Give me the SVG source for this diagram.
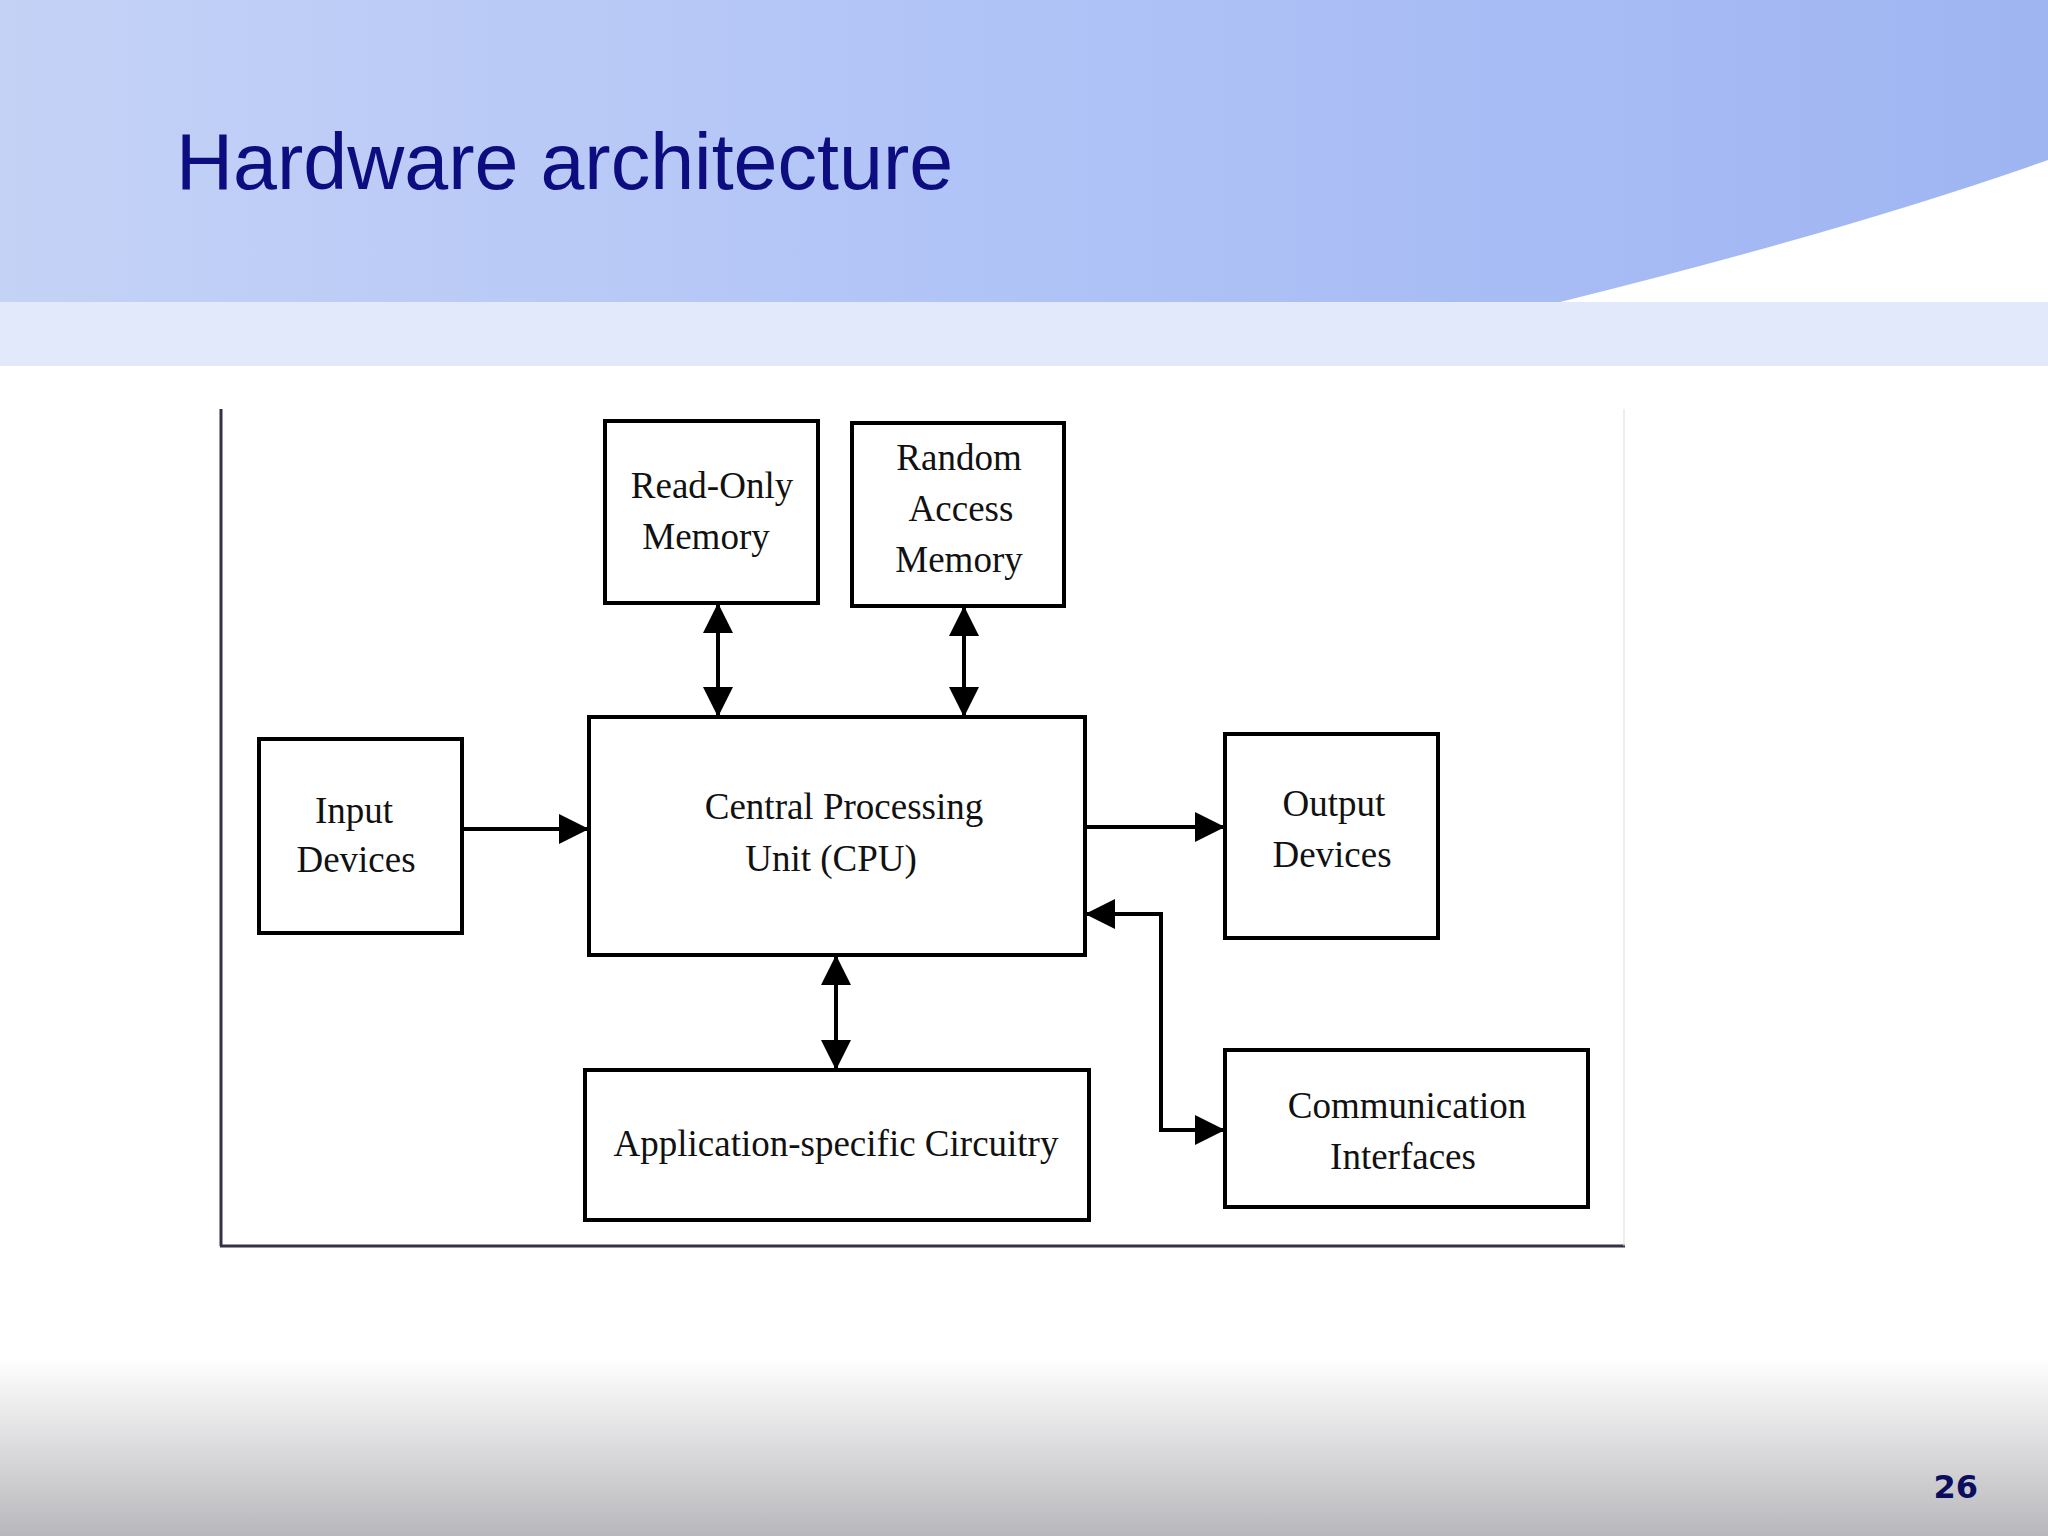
<svg xmlns="http://www.w3.org/2000/svg" width="2048" height="1536" viewBox="0 0 2048 1536">
<defs>
<linearGradient id="top" x1="0" y1="0" x2="1" y2="0">
<stop offset="0" stop-color="#c4d2f6"/><stop offset="0.5" stop-color="#b0c3f7"/><stop offset="1" stop-color="#9fb5f2"/>
</linearGradient>
<linearGradient id="bot" x1="0" y1="0" x2="0" y2="1">
<stop offset="0" stop-color="#ffffff"/><stop offset="1" stop-color="#b8b8bc"/>
</linearGradient>
<marker id="ah" viewBox="0 0 10 10" refX="10" refY="5" markerWidth="32" markerHeight="30" markerUnits="userSpaceOnUse" orient="auto-start-reverse">
<path d="M0,0 L10,5 L0,10 Z" fill="#000"/>
</marker>
<style>
.box{fill:#fff;stroke:#000;stroke-width:4}
.t{font-family:"Liberation Serif",serif;font-size:37px;fill:#111;text-anchor:middle;dominant-baseline:central}
.c{stroke:#000;stroke-width:4;fill:none}
</style>
</defs>
<rect width="2048" height="1536" fill="#fff"/>
<rect x="0" y="0" width="2048" height="366" fill="#e2e9fb"/>
<rect x="0" y="0" width="2048" height="302" fill="url(#top)"/>
<path d="M1560,302 Q1850,230 2048,160 L2048,302 Z" fill="#ffffff"/>
<rect x="0" y="1358" width="2048" height="178" fill="url(#bot)"/>
<text x="176" y="189" font-family="Liberation Sans,Arial,sans-serif" font-size="79" fill="#0d0d80">Hardware architecture</text>
<text x="1978" y="1498" font-family="DejaVu Sans,sans-serif" font-size="32" font-weight="bold" fill="#0d0d60" text-anchor="end">26</text>
<g id="frame">
<line x1="221" y1="409" x2="221" y2="1246" stroke="#334" stroke-width="3"/>
<line x1="220" y1="1246" x2="1625" y2="1246" stroke="#334" stroke-width="3"/>
<line x1="1624" y1="409" x2="1624" y2="1246" stroke="#ddd" stroke-width="1"/>
</g>
<g id="rom"><rect class="box" x="605" y="421" width="213" height="182"/><text class="t" x="712" y="485">Read-Only</text><text class="t" x="706" y="536">Memory</text></g>
<g id="ram"><rect class="box" x="852" y="423" width="212" height="183"/><text class="t" x="959" y="457">Random</text><text class="t" x="961" y="508">Access</text><text class="t" x="959" y="559">Memory</text></g>
<g id="cpu"><rect class="box" x="589" y="717" width="496" height="238"/><text class="t" x="844" y="806">Central Processing</text><text class="t" x="831" y="858">Unit (CPU)</text></g>
<g id="input"><rect class="box" x="259" y="739" width="203" height="194"/><text class="t" x="354" y="810">Input</text><text class="t" x="356" y="859">Devices</text></g>
<g id="output"><rect class="box" x="1225" y="734" width="213" height="204"/><text class="t" x="1334" y="803">Output</text><text class="t" x="1332" y="854">Devices</text></g>
<g id="asc"><rect class="box" x="585" y="1070" width="504" height="150"/><text class="t" x="836" y="1143">Application-specific Circuitry</text></g>
<g id="comm"><rect class="box" x="1225" y="1050" width="363" height="157"/><text class="t" x="1407" y="1105">Communication</text><text class="t" x="1403" y="1156">Interfaces</text></g>
<g id="connectors">
<line class="c" x1="718" y1="603" x2="718" y2="717" marker-start="url(#ah)" marker-end="url(#ah)"/>
<line class="c" x1="964" y1="606" x2="964" y2="717" marker-start="url(#ah)" marker-end="url(#ah)"/>
<line class="c" x1="836" y1="955" x2="836" y2="1070" marker-start="url(#ah)" marker-end="url(#ah)"/>
<line class="c" x1="462" y1="829" x2="589" y2="829" marker-end="url(#ah)"/>
<line class="c" x1="1085" y1="827" x2="1225" y2="827" marker-end="url(#ah)"/>
<polyline class="c" points="1085,914 1161,914 1161,1130 1225,1130" marker-start="url(#ah)" marker-end="url(#ah)"/>
</g>
</svg>
